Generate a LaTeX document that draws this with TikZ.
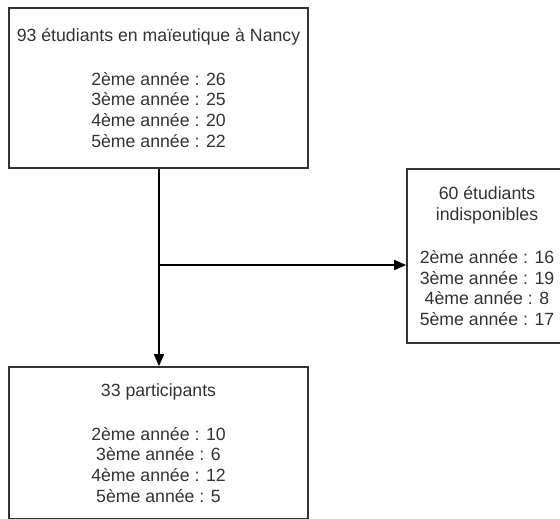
\documentclass[tikz,border=0pt]{standalone}
\usepackage{fontspec}
\setmainfont{Liberation Sans}
\usetikzlibrary{arrows.meta}
\definecolor{boxgray}{HTML}{333333}

\begin{document}
\begin{tikzpicture}[x=1pt,y=-1pt,>={Triangle[length=12pt,width=10pt]},
                    line width=1.6pt,
                    main node/.style={rectangle,draw=boxgray,text=boxgray,inner sep=0pt,
                      align=center,font=\fontsize{17.7}{20.6}\selectfont}]

  \useasboundingbox (0,0) rectangle (560,519);
  \clip (0,0) rectangle (560,519);

  \node[main node,minimum width=299pt,minimum height=160pt] (total) at (158.5,88)
    {93 étudiants en maïeutique à Nancy\\[23pt]2ème année : 26\\3ème année : 25\\4ème année : 20\\5ème année : 22};
  \node[main node,minimum width=160pt,minimum height=174pt] (indisp) at (487,256)
    {60 étudiants\\indisponibles\\[23pt]2ème année : 16\\3ème année : 19\\4ème année : 8\\5ème année : 17};
  \node[main node,minimum width=299pt,minimum height=152pt] (partic) at (158.5,443)
    {33 participants\\[23pt]2ème année : 10\\3ème année : 6\\4ème année : 12\\5ème année : 5};

  \coordinate (split) at (159,265);

  \draw[->] (total.south -| split) -- (partic.north -| split);
  \draw[->] (split) -- (split -| indisp.west);
\end{tikzpicture}
\end{document}
